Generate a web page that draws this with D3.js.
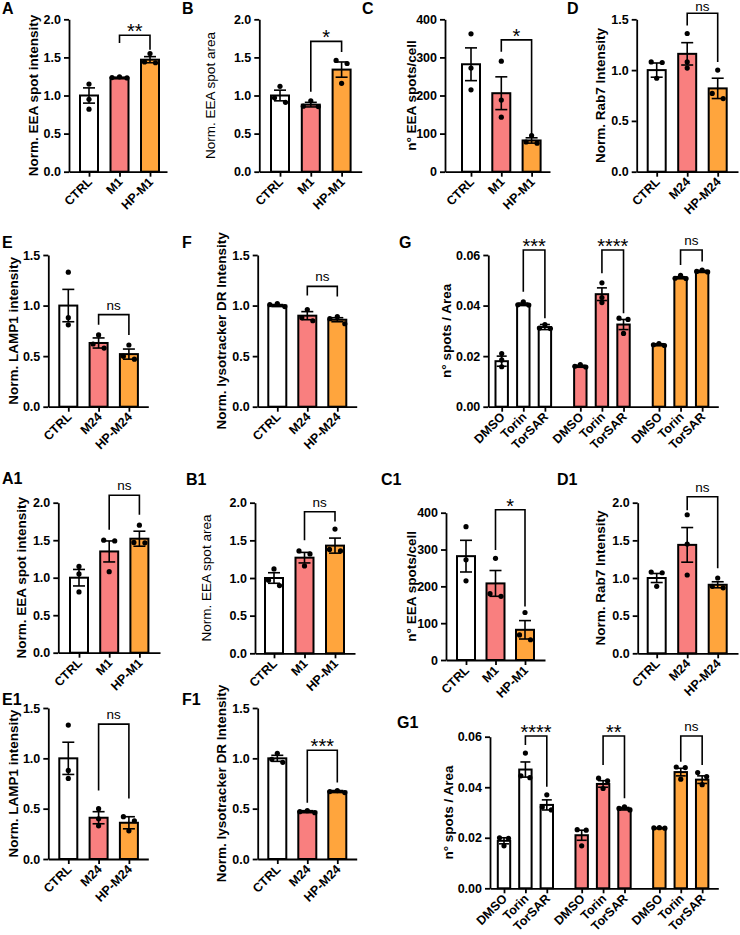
<!DOCTYPE html>
<html><head><meta charset="utf-8">
<script src="https://cdn.jsdelivr.net/npm/d3@7"></script>
<style>body{margin:0;background:#fff} text{font-family:"Liberation Sans",Arial,Helvetica,sans-serif;fill:#000}</style>
</head><body><svg id="c" width="740" height="935"></svg>
<script>
// ---------------- categories & ticks ----------------
const catsM1 = ["CTRL","M1","HP-M1"];
const catsM24 = ["CTRL","M24","HP-M24"];
const catsG = ["DMSO","Torin","TorSAR","DMSO","Torin","TorSAR","DMSO","Torin","TorSAR"];
const ticks20 = [0,0.5,1,1.5,2];
const ticks20Labels = ["0.0","0.5","1.0","1.5","2.0"];
const ticks15 = [0,0.5,1,1.5];
const ticks15Labels = ["0.0","0.5","1.0","1.5"];
const ticks400 = [0,100,200,300,400];
const ticks400Labels = ["0","100","200","300","400"];
const ticksG = [0,0.02,0.04,0.06];
const ticksGLabels = ["0.00","0.02","0.04","0.06"];
const fillColors = ["#ffffff","#f97f7f","#ffa53d"];

// ---------------- values (mean, sem, replicate points, significance) ----------------
const A_mean = [1.00,1.23,1.47];
const A_sem  = [0.10,0.01,0.04];
const A_pts  = [[1.15,0.95,0.82],[1.245,1.235,1.23],[1.55,1.44,1.43]];
const A_sig  = [[1,2,"**",1.79,1.69,1.60]];

const B_mean = [1.00,0.88,1.34];
const B_sem  = [0.07,0.03,0.10];
const B_pts  = [[1.12,0.97,0.91],[0.93,0.86,0.855],[1.46,1.42,1.16]];
const B_sig  = [[1,2,"*",1.71,1.05,1.57]];

const C_mean = [282,206,82];
const C_sem  = [43,43,7];
const C_pts  = [[362,272,215],[290,188,143],[95,78,75]];
const C_sig  = [[1,2,"*",346,315,96]];

const D_mean = [1.00,1.16,0.82];
const D_sem  = [0.07,0.11,0.10];
const D_pts  = [[1.08,1.075,0.92],[1.36,1.08,1.02],[1.00,0.77,0.72]];
const D_sig  = [[1,2,"ns",1.56,1.44,1.08]];

const E_mean = [1.00,0.63,0.52];
const E_sem  = [0.16,0.05,0.05];
const E_pts  = [[1.33,0.88,0.81],[0.71,0.62,0.58],[0.61,0.50,0.47]];
const E_sig  = [[1,2,"ns",0.91,0.81,0.71]];

const F_mean = [1.00,0.90,0.86];
const F_sem  = [0.01,0.04,0.02];
const F_pts  = [[1.02,1.01,0.99],[0.96,0.88,0.85],[0.89,0.87,0.82]];
const F_sig  = [[1,2,"ns",1.19,1.10,1.09]];

const G_mean = [0.0180,0.0405,0.0315,0.0160,0.0445,0.0325,0.0245,0.0510,0.0535];
const G_sem  = [0.0020,0.0005,0.0010,0.0004,0.0025,0.0020,0.0004,0.0004,0.0004];
const G_pts  = [[0.0210,0.0185,0.0158],[0.0415,0.0403,0.0402],[0.0325,0.0311,0.0309],
                [0.0167,0.0160,0.0157],[0.0490,0.0432,0.0412],[0.0350,0.0345,0.0290],
                [0.0250,0.0245,0.0242],[0.0520,0.0508,0.0507],[0.0540,0.0535,0.0533]];
const G_sig  = [[1,2,"***",0.062,0.0455,0.035],[4,5,"****",0.062,0.0528,0.037],[7,8,"ns",0.062,0.056,0.0574]];

const A1_mean = [1.00,1.35,1.52];
const A1_sem  = [0.11,0.14,0.10];
const A1_pts  = [[1.15,1.05,0.81],[1.50,1.49,1.08],[1.70,1.47,1.465]];
const A1_sig  = [[1,2,"ns",2.10,1.64,1.84]];

const B1_mean = [1.00,1.27,1.43];
const B1_sem  = [0.07,0.07,0.10];
const B1_pts  = [[1.12,0.97,0.90],[1.36,1.32,1.16],[1.65,1.38,1.36]];
const B1_sig  = [[1,2,"ns",1.88,1.50,1.75]];

const C1_mean = [282,208,82];
const C1_sem  = [43,35,25];
const C1_pts  = [[362,272,215],[276,180,173],[129,68,55]];
const C1_sig  = [[1,2,"*",408,299,145]];

const D1_mean = [1.00,1.44,0.91];
const D1_sem  = [0.06,0.23,0.04];
const D1_pts  = [[1.08,1.07,0.89],[1.84,1.45,1.04],[1.00,0.89,0.87]];
const D1_sig  = [[1,2,"ns",2.08,1.90,1.13]];

const E1_mean = [1.00,0.41,0.36];
const E1_sem  = [0.16,0.06,0.06];
const E1_pts  = [[1.33,0.88,0.80],[0.50,0.40,0.33],[0.42,0.38,0.28]];
const E1_sig  = [[1,2,"ns",1.34,0.68,0.60]];

const F1_mean = [1.00,0.47,0.67];
const F1_sem  = [0.03,0.01,0.01];
const F1_pts  = [[1.05,0.99,0.96],[0.48,0.47,0.46],[0.68,0.67,0.66]];
const F1_sig  = [[1,2,"***",1.08,0.56,0.76]];

const G1_mean = [0.0188,0.0470,0.0330,0.0210,0.0413,0.0315,0.0238,0.0460,0.0430];
const G1_sem  = [0.0012,0.0030,0.0020,0.0020,0.0013,0.0005,0.0002,0.0015,0.0015];
const G1_pts  = [[0.0200,0.0198,0.0168],[0.0535,0.0445,0.0438],[0.0370,0.0322,0.0310],
                 [0.0232,0.0230,0.0168],[0.0436,0.0425,0.0395],[0.0322,0.0316,0.0310],
                 [0.0240,0.0239,0.0238],[0.0480,0.0478,0.0432],[0.0458,0.0442,0.0410]];
const G1_sig  = [[1,2,"****",0.0603,0.0567,0.0402],[4,5,"**",0.0603,0.0488,0.0356],[7,8,"ns",0.0603,0.0501,0.0488]];

// ---------------- layout ----------------
const panels = [
 {id:"A", cats:catsM1, mean:A_mean, sem:A_sem, pts:A_pts, sig:A_sig, ticks:ticks20, tl:ticks20Labels, dom:[0,2],
  ax:69, x0:89, step:30.5, xEnd:167, yTop:19.3, yBot:171.7, lx:2, ly:14, tx:33, title:"Norm. EEA spot intensity", tw:"bold"},
 {id:"B", cats:catsM1, mean:B_mean, sem:B_sem, pts:B_pts, sig:B_sig, ticks:ticks20, tl:ticks20Labels, dom:[0,2],
  ax:259.3, x0:280, step:30.8, xEnd:361.7, yTop:19.3, yBot:171.7, lx:182, ly:14, tx:210, title:"Norm. EEA spot area", tw:"normal"},
 {id:"C", cats:catsM1, mean:C_mean, sem:C_sem, pts:C_pts, sig:C_sig, ticks:ticks400, tl:ticks400Labels, dom:[0,400],
  ax:445, x0:471, step:30.3, xEnd:550, yTop:19.3, yBot:171.7, lx:362, ly:14, tx:411.7, title:"n° EEA spots/cell", tw:"bold"},
 {id:"D", cats:catsM24, mean:D_mean, sem:D_sem, pts:D_pts, sig:D_sig, ticks:ticks15, tl:ticks15Labels, dom:[0,1.5],
  ax:636.7, x0:656.7, step:30.5, xEnd:738, yTop:19.3, yBot:171.7, lx:567, ly:14, tx:600, title:"Norm. Rab7 Intensity", tw:"bold"},
 {id:"E", cats:catsM24, mean:E_mean, sem:E_sem, pts:E_pts, sig:E_sig, ticks:ticks15, tl:ticks15Labels, dom:[0,1.5],
  ax:48.3, x0:68.3, step:30.3, xEnd:148.3, yTop:255, yBot:406.7, lx:2, ly:248, tx:13.3, title:"Norm. LAMP1 intensity", tw:"bold"},
 {id:"F", cats:catsM24, mean:F_mean, sem:F_sem, pts:F_pts, sig:F_sig, ticks:ticks15, tl:ticks15Labels, dom:[0,1.5],
  ax:257.7, x0:277.3, step:30, xEnd:356.7, yTop:255, yBot:406.7, lx:182, ly:248, tx:221.7, title:"Norm. lysotracker DR Intensity", tw:"bold"},
 {id:"G", cats:catsG, mean:G_mean, sem:G_sem, pts:G_pts, sig:G_sig, ticks:ticksG, tl:ticksGLabels, dom:[0,0.06], grouped:true, gap:0.64,
  ax:488.3, x0:501.7, step:21.6, xEnd:718.3, yTop:255, yBot:406.7, lx:399, ly:248, tx:446, title:"n° spots / Area", tw:"bold"},
 {id:"A1", cats:catsM1, mean:A1_mean, sem:A1_sem, pts:A1_pts, sig:A1_sig, ticks:ticks20, tl:ticks20Labels, dom:[0,2],
  ax:58.3, x0:79, step:30.2, xEnd:160, yTop:502.7, yBot:652.7, lx:2, ly:484, tx:21.7, title:"Norm. EEA spot intensity", tw:"bold"},
 {id:"B1", cats:catsM1, mean:B1_mean, sem:B1_sem, pts:B1_pts, sig:B1_sig, ticks:ticks20, tl:ticks20Labels, dom:[0,2],
  ax:255, x0:274, step:30.5, xEnd:355, yTop:502.7, yBot:653.3, lx:186, ly:485, tx:206.7, title:"Norm. EEA spot area", tw:"normal"},
 {id:"C1", cats:catsM1, mean:C1_mean, sem:C1_sem, pts:C1_pts, sig:C1_sig, ticks:ticks400, tl:ticks400Labels, dom:[0,400],
  ax:446, x0:466, step:29.5, xEnd:545, yTop:512.7, yBot:660, lx:381, ly:485, tx:411.7, title:"n° EEA spots/cell", tw:"bold"},
 {id:"D1", cats:catsM24, mean:D1_mean, sem:D1_sem, pts:D1_pts, sig:D1_sig, ticks:ticks20, tl:ticks20Labels, dom:[0,2],
  ax:637.7, x0:656.7, step:30.5, xEnd:738, yTop:502.7, yBot:653.3, lx:557, ly:485, tx:600, title:"Norm. Rab7 Intensity", tw:"bold"},
 {id:"E1", cats:catsM24, mean:E1_mean, sem:E1_sem, pts:E1_pts, sig:E1_sig, ticks:ticks15, tl:ticks15Labels, dom:[0,1.5],
  ax:48.3, x0:68.3, step:30.3, xEnd:148.3, yTop:708, yBot:859, lx:2, ly:705, tx:13.3, title:"Norm. LAMP1 intensity", tw:"bold"},
 {id:"F1", cats:catsM24, mean:F1_mean, sem:F1_sem, pts:F1_pts, sig:F1_sig, ticks:ticks15, tl:ticks15Labels, dom:[0,1.5],
  ax:257.7, x0:277.3, step:30, xEnd:356.7, yTop:708, yBot:859, lx:182, ly:705, tx:221.7, title:"Norm. lysotracker DR Intensity", tw:"bold"},
 {id:"G1", cats:catsG, mean:G1_mean, sem:G1_sem, pts:G1_pts, sig:G1_sig, ticks:ticksG, tl:ticksGLabels, dom:[0,0.06], grouped:true, gap:0.63,
  ax:490, x0:504, step:21.4, xEnd:718.3, yTop:736.7, yBot:888.3, lx:397, ly:728, tx:448, title:"n° spots / Area", tw:"bold"}
];

const svg = d3.select("#c");
svg.append("rect").attr("width",740).attr("height",935).attr("fill","#fff");

function spreadOffsets(vals, y, thr, s2, s3) {
  const pix = vals.map(v => y(v));
  const idx = d3.range(vals.length).sort((a,b) => pix[a]-pix[b]);
  const clusters = [];
  idx.forEach((i,k) => {
    if (k>0 && Math.abs(pix[i]-pix[idx[k-1]]) <= thr) clusters[clusters.length-1].push(i);
    else clusters.push([i]);
  });
  const off = new Array(vals.length).fill(0);
  clusters.forEach(c => {
    if (c.length===2) { off[c[0]] = -s2; off[c[1]] = s2; }
    if (c.length===3) { off[c[1]] = -s3; off[c[0]] = 0; off[c[2]] = s3; }
  });
  return off;
}

function drawPanel(P) {
  const g = svg.append("g");
  const pos = P.cats.map((c,i) => P.grouped ? i + Math.floor(i/3)*P.gap : i);
  const x = d3.scaleLinear()
    .domain([(P.ax-P.x0)/P.step, (P.xEnd-P.x0)/P.step])
    .range([P.ax, P.xEnd]);
  const y = d3.scaleLinear().domain(P.dom).range([P.yBot, P.yTop]);
  const bw = P.grouped ? 12.4 : 18;
  const cap = P.grouped ? 5 : 6;
  const colorOf = i => P.grouped ? fillColors[Math.floor(i/3)] : fillColors[i];

  // bars
  g.selectAll("rect.bar").data(P.mean).join("rect")
    .attr("x",(d,i)=>x(pos[i])-bw/2).attr("width",bw)
    .attr("y",d=>y(d)).attr("height",d=>y(0)-y(d))
    .attr("fill",(d,i)=>colorOf(i)).attr("stroke","#000").attr("stroke-width",2);

  // error bars
  P.mean.forEach((m,i) => {
    const cx = x(pos[i]);
    const lo = y(m-P.sem[i]), hi = y(m+P.sem[i]);
    const eg = g.append("g").attr("stroke","#000").attr("stroke-width",1.6).attr("fill","none");
    eg.append("line").attr("x1",cx).attr("x2",cx).attr("y1",lo).attr("y2",hi);
    eg.append("line").attr("x1",cx-cap).attr("x2",cx+cap).attr("y1",hi).attr("y2",hi);
    eg.append("line").attr("x1",cx-cap).attr("x2",cx+cap).attr("y1",lo).attr("y2",lo);
  });

  // points
  P.pts.forEach((vals,i) => {
    const cx = x(pos[i]);
    const off = P.grouped ? spreadOffsets(vals,y,5,4.5,5.5) : spreadOffsets(vals,y,6,5.5,7.5);
    vals.forEach((v,k) => {
      g.append("circle").attr("cx",cx+off[k]).attr("cy",y(v)).attr("r",2.6).attr("fill","#000");
    });
  });

  // y axis
  const ya = g.append("g").attr("transform",`translate(${P.ax},0)`)
    .call(d3.axisLeft(y).tickValues(P.ticks).tickFormat((d,i)=>P.tl[i]).tickSize(5).tickSizeOuter(0).tickPadding(3));
  ya.select(".domain").attr("stroke","#000").attr("stroke-width",1.8);
  ya.selectAll(".tick line").attr("stroke","#000").attr("stroke-width",1.8);
  ya.selectAll(".tick text").attr("font-size",12.5).attr("font-weight","bold")
    .attr("font-family",'"Liberation Sans",Arial,sans-serif').attr("fill","#000");

  // x axis
  const xa = g.append("g").attr("transform",`translate(0,${P.yBot})`)
    .call(d3.axisBottom(x).tickValues(pos).tickFormat("").tickSize(5).tickSizeOuter(0));
  xa.select(".domain").attr("stroke","#000").attr("stroke-width",1.8);
  xa.selectAll(".tick line").attr("stroke","#000").attr("stroke-width",1.8);

  // rotated category labels
  P.cats.forEach((c,i) => {
    g.append("text").attr("transform",`translate(${x(pos[i])+4},${P.yBot+11}) rotate(-45)`)
      .attr("text-anchor","end").attr("font-size",12.5).attr("font-weight","bold").text(c);
  });

  // axis title
  g.append("text").attr("transform",`translate(${P.tx},${(P.yTop+P.yBot)/2}) rotate(-90)`)
    .attr("text-anchor","middle").attr("dy","0.35em").attr("font-size",13.5).attr("font-weight",P.tw).text(P.title);

  // panel letter
  g.append("text").attr("x",P.lx).attr("y",P.ly).attr("font-size",16).attr("font-weight","bold").text(P.id);

  // significance brackets
  P.sig.forEach(s => {
    const xa1 = x(pos[s[0]]), xa2 = x(pos[s[1]]);
    const top = y(s[3]);
    g.append("path").attr("d",`M${xa1},${y(s[4])}V${top}H${xa2}V${y(s[5])}`)
      .attr("fill","none").attr("stroke","#000").attr("stroke-width",1.6);
    const isNs = s[2]==="ns";
    g.append("text").attr("x",(xa1+xa2)/2).attr("y", isNs ? Math.max(top-5, 11) : top+3)
      .attr("text-anchor","middle").attr("font-size", isNs ? 13.5 : 20).text(s[2]);
  });
}

panels.forEach(drawPanel);
</script></body></html>
